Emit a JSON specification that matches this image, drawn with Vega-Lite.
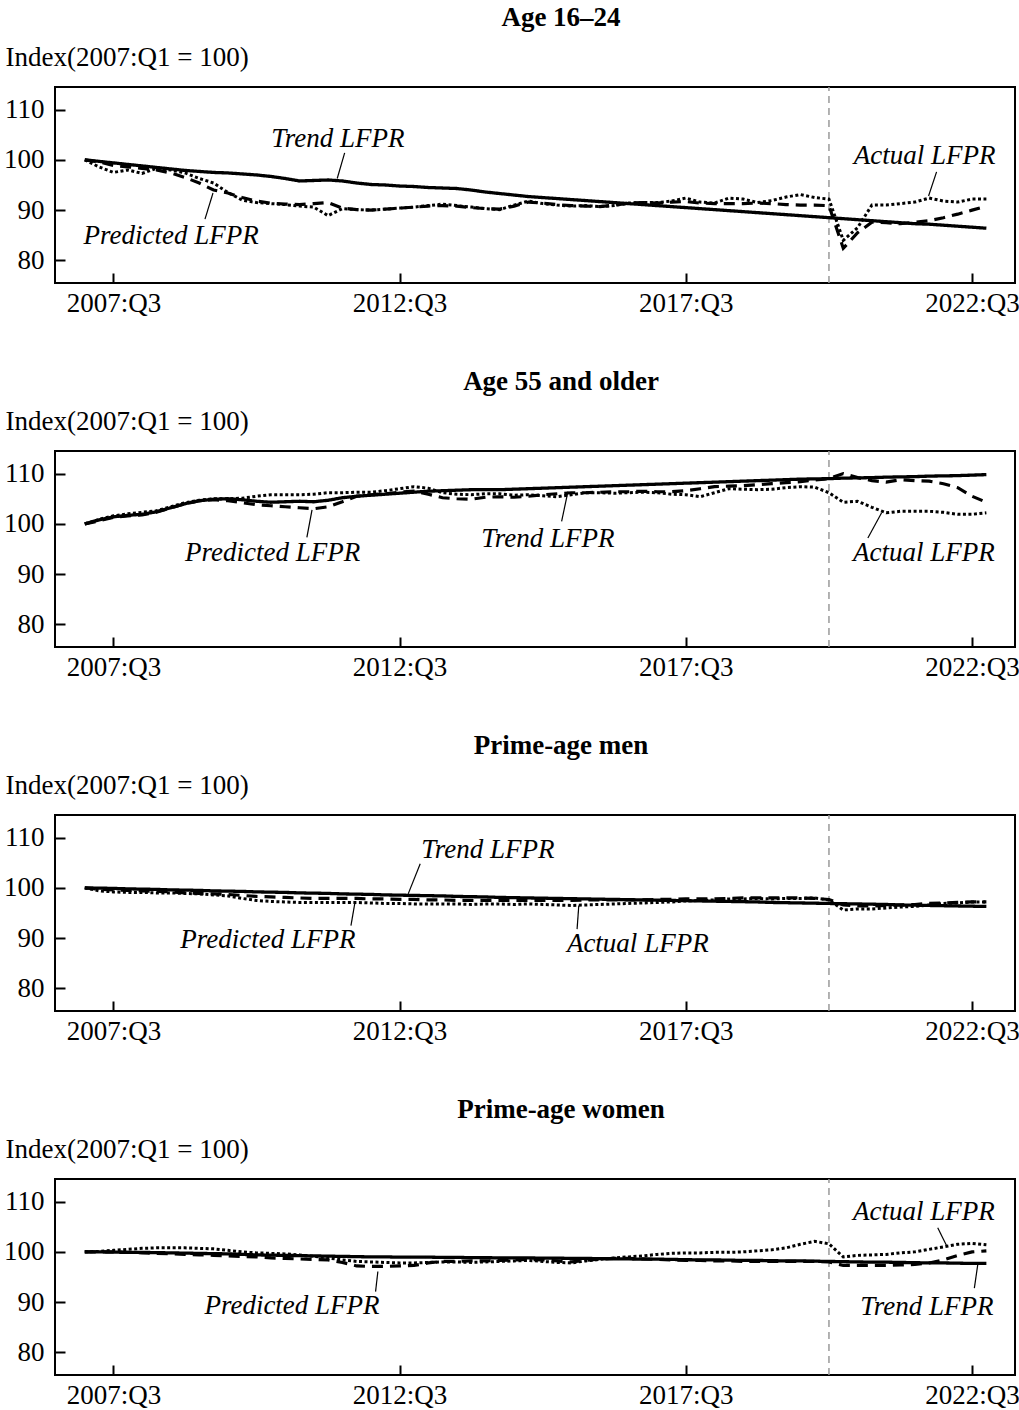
{
  "$schema": "https://vega.github.io/schema/vega-lite/v6.json",
  "background": "white",
  "padding": {"left": 2, "top": 3, "right": 0, "bottom": 0},
  "spacing": 50,
  "config": {
    "font": "Liberation Serif",
    "view": {"stroke": "black", "strokeWidth": 2},
    "axis": {
      "domain": false,
      "grid": false,
      "ticks": true,
      "tickColor": "black",
      "tickWidth": 2,
      "tickSize": -10,
      "labelFont": "Liberation Serif",
      "labelFontSize": 27,
      "labelColor": "black",
      "labelFlush": false,
      "labelOverlap": false,
      "titleFont": "Liberation Serif",
      "titleFontSize": 27,
      "titleFontWeight": "normal",
      "titleColor": "black"
    },
    "title": {
      "font": "Liberation Serif",
      "fontSize": 27,
      "fontWeight": "bold",
      "color": "black",
      "anchor": "middle",
      "offset": 11,
      "dx": 26
    }
  },
  "datasets": {
    "series": [
      {"panel":"a","yr":2007,"trend":100,"pred":100,"act":100},
      {"panel":"a","yr":2007.25,"trend":99.7,"pred":99.6,"act":98.6},
      {"panel":"a","yr":2007.5,"trend":99.4,"pred":98.9,"act":97.5},
      {"panel":"a","yr":2007.75,"trend":99.1,"pred":98.6,"act":98.0},
      {"panel":"a","yr":2008,"trend":98.8,"pred":98.3,"act":97.3},
      {"panel":"a","yr":2008.25,"trend":98.5,"pred":98.0,"act":98.3},
      {"panel":"a","yr":2008.5,"trend":98.2,"pred":97.4,"act":98.0},
      {"panel":"a","yr":2008.75,"trend":97.9,"pred":96.5,"act":97.4},
      {"panel":"a","yr":2009,"trend":97.7,"pred":95.4,"act":96.3},
      {"panel":"a","yr":2009.25,"trend":97.5,"pred":94.0,"act":95.4},
      {"panel":"a","yr":2009.5,"trend":97.4,"pred":93.4,"act":93.5},
      {"panel":"a","yr":2009.75,"trend":97.2,"pred":92.5,"act":92.0},
      {"panel":"a","yr":2010,"trend":97.0,"pred":91.8,"act":91.5},
      {"panel":"a","yr":2010.25,"trend":96.7,"pred":91.4,"act":91.3},
      {"panel":"a","yr":2010.5,"trend":96.3,"pred":91.2,"act":91.1},
      {"panel":"a","yr":2010.75,"trend":95.8,"pred":91.1,"act":90.8},
      {"panel":"a","yr":2011,"trend":95.9,"pred":91.3,"act":90.6},
      {"panel":"a","yr":2011.25,"trend":96.0,"pred":91.5,"act":88.9},
      {"panel":"a","yr":2011.5,"trend":95.8,"pred":90.4,"act":90.3},
      {"panel":"a","yr":2011.75,"trend":95.4,"pred":90.1,"act":90.1},
      {"panel":"a","yr":2012,"trend":95.1,"pred":90.0,"act":90.0},
      {"panel":"a","yr":2012.25,"trend":95.0,"pred":90.2,"act":90.2},
      {"panel":"a","yr":2012.5,"trend":94.8,"pred":90.4,"act":90.4},
      {"panel":"a","yr":2012.75,"trend":94.7,"pred":90.6,"act":90.6},
      {"panel":"a","yr":2013,"trend":94.5,"pred":90.8,"act":90.9},
      {"panel":"a","yr":2013.25,"trend":94.4,"pred":90.9,"act":91.2},
      {"panel":"a","yr":2013.5,"trend":94.3,"pred":90.8,"act":90.9},
      {"panel":"a","yr":2013.75,"trend":94.0,"pred":90.5,"act":90.6},
      {"panel":"a","yr":2014,"trend":93.6,"pred":90.3,"act":90.3},
      {"panel":"a","yr":2014.25,"trend":93.3,"pred":90.2,"act":90.1},
      {"panel":"a","yr":2014.5,"trend":93.0,"pred":90.8,"act":91.0},
      {"panel":"a","yr":2014.75,"trend":92.7,"pred":91.6,"act":91.8},
      {"panel":"a","yr":2015,"trend":92.5,"pred":91.4,"act":91.3},
      {"panel":"a","yr":2015.25,"trend":92.3,"pred":91.1,"act":91.0},
      {"panel":"a","yr":2015.5,"trend":92.1,"pred":90.9,"act":90.8},
      {"panel":"a","yr":2015.75,"trend":91.9,"pred":90.8,"act":90.9},
      {"panel":"a","yr":2016,"trend":91.7,"pred":90.7,"act":90.7},
      {"panel":"a","yr":2016.25,"trend":91.5,"pred":91.0,"act":90.9},
      {"panel":"a","yr":2016.5,"trend":91.3,"pred":91.4,"act":91.4},
      {"panel":"a","yr":2016.75,"trend":91.1,"pred":91.5,"act":91.5},
      {"panel":"a","yr":2017,"trend":90.9,"pred":91.4,"act":91.5},
      {"panel":"a","yr":2017.25,"trend":90.7,"pred":91.6,"act":91.8},
      {"panel":"a","yr":2017.5,"trend":90.5,"pred":91.7,"act":92.4},
      {"panel":"a","yr":2017.75,"trend":90.3,"pred":91.4,"act":91.6},
      {"panel":"a","yr":2018,"trend":90.1,"pred":91.3,"act":91.4},
      {"panel":"a","yr":2018.25,"trend":89.9,"pred":91.3,"act":92.4},
      {"panel":"a","yr":2018.5,"trend":89.7,"pred":91.3,"act":92.2},
      {"panel":"a","yr":2018.75,"trend":89.5,"pred":91.4,"act":91.5},
      {"panel":"a","yr":2019,"trend":89.3,"pred":91.3,"act":91.9},
      {"panel":"a","yr":2019.25,"trend":89.1,"pred":91.1,"act":92.6},
      {"panel":"a","yr":2019.5,"trend":88.9,"pred":91.0,"act":93.1},
      {"panel":"a","yr":2019.75,"trend":88.7,"pred":91.0,"act":92.5},
      {"panel":"a","yr":2020,"trend":88.5,"pred":90.9,"act":92.2},
      {"panel":"a","yr":2020.25,"trend":88.3,"pred":82.4,"act":84.0},
      {"panel":"a","yr":2020.5,"trend":88.1,"pred":85.5,"act":86.5},
      {"panel":"a","yr":2020.75,"trend":87.9,"pred":87.6,"act":91.0},
      {"panel":"a","yr":2021,"trend":87.7,"pred":87.5,"act":91.0},
      {"panel":"a","yr":2021.25,"trend":87.5,"pred":87.3,"act":91.3},
      {"panel":"a","yr":2021.5,"trend":87.3,"pred":87.6,"act":91.6},
      {"panel":"a","yr":2021.75,"trend":87.2,"pred":87.9,"act":92.4},
      {"panel":"a","yr":2022,"trend":87.0,"pred":88.5,"act":91.8},
      {"panel":"a","yr":2022.25,"trend":86.8,"pred":89.2,"act":91.6},
      {"panel":"a","yr":2022.5,"trend":86.6,"pred":90.0,"act":92.2},
      {"panel":"a","yr":2022.75,"trend":86.4,"pred":90.8,"act":92.2},

      {"panel":"b","yr":2007,"trend":100,"pred":100,"act":100},
      {"panel":"b","yr":2007.25,"trend":100.8,"pred":100.6,"act":100.9},
      {"panel":"b","yr":2007.5,"trend":101.4,"pred":101.3,"act":101.6},
      {"panel":"b","yr":2007.75,"trend":101.7,"pred":101.6,"act":102.0},
      {"panel":"b","yr":2008,"trend":101.9,"pred":101.8,"act":102.3},
      {"panel":"b","yr":2008.25,"trend":102.4,"pred":102.3,"act":102.6},
      {"panel":"b","yr":2008.5,"trend":103.2,"pred":103.2,"act":103.4},
      {"panel":"b","yr":2008.75,"trend":104.0,"pred":104.0,"act":104.2},
      {"panel":"b","yr":2009,"trend":104.6,"pred":104.6,"act":104.7},
      {"panel":"b","yr":2009.25,"trend":104.9,"pred":104.8,"act":105.0},
      {"panel":"b","yr":2009.5,"trend":105.0,"pred":104.6,"act":105.0},
      {"panel":"b","yr":2009.75,"trend":104.8,"pred":104.2,"act":105.1},
      {"panel":"b","yr":2010,"trend":104.5,"pred":103.8,"act":105.5},
      {"panel":"b","yr":2010.25,"trend":104.3,"pred":103.6,"act":105.8},
      {"panel":"b","yr":2010.5,"trend":104.4,"pred":103.4,"act":105.8},
      {"panel":"b","yr":2010.75,"trend":104.5,"pred":103.2,"act":105.8},
      {"panel":"b","yr":2011,"trend":104.4,"pred":103.0,"act":105.9},
      {"panel":"b","yr":2011.25,"trend":104.7,"pred":103.4,"act":106.2},
      {"panel":"b","yr":2011.5,"trend":105.2,"pred":104.4,"act":106.2},
      {"panel":"b","yr":2011.75,"trend":105.5,"pred":105.5,"act":106.3},
      {"panel":"b","yr":2012,"trend":105.7,"pred":105.8,"act":106.3},
      {"panel":"b","yr":2012.25,"trend":105.9,"pred":106.0,"act":106.6},
      {"panel":"b","yr":2012.5,"trend":106.1,"pred":106.3,"act":107.0},
      {"panel":"b","yr":2012.75,"trend":106.3,"pred":106.5,"act":107.4},
      {"panel":"b","yr":2013,"trend":106.5,"pred":105.9,"act":107.1},
      {"panel":"b","yr":2013.25,"trend":106.6,"pred":105.2,"act":106.2},
      {"panel":"b","yr":2013.5,"trend":106.7,"pred":105.0,"act":105.9},
      {"panel":"b","yr":2013.75,"trend":106.8,"pred":104.9,"act":105.8},
      {"panel":"b","yr":2014,"trend":106.8,"pred":105.3,"act":106.0},
      {"panel":"b","yr":2014.25,"trend":106.8,"pred":105.4,"act":106.0},
      {"panel":"b","yr":2014.5,"trend":106.9,"pred":105.3,"act":105.7},
      {"panel":"b","yr":2014.75,"trend":107.0,"pred":105.5,"act":105.8},
      {"panel":"b","yr":2015,"trend":107.1,"pred":105.8,"act":105.6},
      {"panel":"b","yr":2015.25,"trend":107.2,"pred":106.0,"act":105.4},
      {"panel":"b","yr":2015.5,"trend":107.3,"pred":106.2,"act":105.8},
      {"panel":"b","yr":2015.75,"trend":107.4,"pred":106.2,"act":106.2},
      {"panel":"b","yr":2016,"trend":107.5,"pred":106.3,"act":106.2},
      {"panel":"b","yr":2016.25,"trend":107.6,"pred":106.4,"act":106.1},
      {"panel":"b","yr":2016.5,"trend":107.7,"pred":106.4,"act":106.2},
      {"panel":"b","yr":2016.75,"trend":107.8,"pred":106.5,"act":106.3},
      {"panel":"b","yr":2017,"trend":107.9,"pred":106.4,"act":106.2},
      {"panel":"b","yr":2017.25,"trend":108.0,"pred":106.4,"act":105.9},
      {"panel":"b","yr":2017.5,"trend":108.1,"pred":106.6,"act":105.8},
      {"panel":"b","yr":2017.75,"trend":108.2,"pred":107.0,"act":105.4},
      {"panel":"b","yr":2018,"trend":108.3,"pred":107.4,"act":106.2},
      {"panel":"b","yr":2018.25,"trend":108.4,"pred":107.5,"act":107.0},
      {"panel":"b","yr":2018.5,"trend":108.5,"pred":107.6,"act":106.9},
      {"panel":"b","yr":2018.75,"trend":108.6,"pred":107.8,"act":106.8},
      {"panel":"b","yr":2019,"trend":108.7,"pred":108.0,"act":106.9},
      {"panel":"b","yr":2019.25,"trend":108.8,"pred":108.2,"act":107.2},
      {"panel":"b","yr":2019.5,"trend":108.9,"pred":108.4,"act":107.4},
      {"panel":"b","yr":2019.75,"trend":108.95,"pred":108.7,"act":107.3},
      {"panel":"b","yr":2020,"trend":109.0,"pred":109.0,"act":106.2},
      {"panel":"b","yr":2020.25,"trend":109.1,"pred":110.0,"act":104.3},
      {"panel":"b","yr":2020.5,"trend":109.15,"pred":109.2,"act":104.5},
      {"panel":"b","yr":2020.75,"trend":109.2,"pred":108.6,"act":103.3},
      {"panel":"b","yr":2021,"trend":109.3,"pred":108.3,"act":102.2},
      {"panel":"b","yr":2021.25,"trend":109.35,"pred":108.8,"act":102.5},
      {"panel":"b","yr":2021.5,"trend":109.4,"pred":108.6,"act":102.5},
      {"panel":"b","yr":2021.75,"trend":109.5,"pred":108.5,"act":102.5},
      {"panel":"b","yr":2022,"trend":109.55,"pred":108.0,"act":102.3},
      {"panel":"b","yr":2022.25,"trend":109.6,"pred":107.2,"act":101.9},
      {"panel":"b","yr":2022.5,"trend":109.7,"pred":105.5,"act":101.9},
      {"panel":"b","yr":2022.75,"trend":109.8,"pred":104.3,"act":102.2},

      {"panel":"c","yr":2007,"trend":100,"pred":100,"act":100},
      {"panel":"c","yr":2007.25,"trend":99.95,"pred":99.7,"act":99.4},
      {"panel":"c","yr":2007.5,"trend":99.9,"pred":99.6,"act":99.2},
      {"panel":"c","yr":2007.75,"trend":99.8,"pred":99.5,"act":99.1},
      {"panel":"c","yr":2008,"trend":99.75,"pred":99.4,"act":99.1},
      {"panel":"c","yr":2008.25,"trend":99.7,"pred":99.3,"act":99.0},
      {"panel":"c","yr":2008.5,"trend":99.6,"pred":99.2,"act":99.0},
      {"panel":"c","yr":2008.75,"trend":99.55,"pred":99.0,"act":98.9},
      {"panel":"c","yr":2009,"trend":99.5,"pred":98.9,"act":98.8},
      {"panel":"c","yr":2009.25,"trend":99.4,"pred":98.8,"act":98.6},
      {"panel":"c","yr":2009.5,"trend":99.35,"pred":98.7,"act":98.4},
      {"panel":"c","yr":2009.75,"trend":99.3,"pred":98.5,"act":97.9},
      {"panel":"c","yr":2010,"trend":99.2,"pred":98.3,"act":97.5},
      {"panel":"c","yr":2010.25,"trend":99.15,"pred":98.2,"act":97.3},
      {"panel":"c","yr":2010.5,"trend":99.1,"pred":98.1,"act":97.2},
      {"panel":"c","yr":2010.75,"trend":99.0,"pred":98.0,"act":97.1},
      {"panel":"c","yr":2011,"trend":98.95,"pred":97.9,"act":97.1},
      {"panel":"c","yr":2011.25,"trend":98.9,"pred":97.9,"act":97.1},
      {"panel":"c","yr":2011.5,"trend":98.8,"pred":97.9,"act":97.1},
      {"panel":"c","yr":2011.75,"trend":98.75,"pred":97.9,"act":97.1},
      {"panel":"c","yr":2012,"trend":98.7,"pred":97.8,"act":97.0},
      {"panel":"c","yr":2012.25,"trend":98.6,"pred":97.8,"act":96.9},
      {"panel":"c","yr":2012.5,"trend":98.55,"pred":97.7,"act":96.9},
      {"panel":"c","yr":2012.75,"trend":98.5,"pred":97.7,"act":96.8},
      {"panel":"c","yr":2013,"trend":98.45,"pred":97.6,"act":96.8},
      {"panel":"c","yr":2013.25,"trend":98.4,"pred":97.6,"act":96.8},
      {"panel":"c","yr":2013.5,"trend":98.3,"pred":97.5,"act":96.8},
      {"panel":"c","yr":2013.75,"trend":98.25,"pred":97.5,"act":96.7},
      {"panel":"c","yr":2014,"trend":98.2,"pred":97.5,"act":96.8},
      {"panel":"c","yr":2014.25,"trend":98.1,"pred":97.5,"act":96.8},
      {"panel":"c","yr":2014.5,"trend":98.05,"pred":97.5,"act":96.7},
      {"panel":"c","yr":2014.75,"trend":98.0,"pred":97.5,"act":96.8},
      {"panel":"c","yr":2015,"trend":97.95,"pred":97.5,"act":96.7},
      {"panel":"c","yr":2015.25,"trend":97.9,"pred":97.5,"act":96.6},
      {"panel":"c","yr":2015.5,"trend":97.85,"pred":97.5,"act":96.5},
      {"panel":"c","yr":2015.75,"trend":97.8,"pred":97.6,"act":96.6},
      {"panel":"c","yr":2016,"trend":97.75,"pred":97.6,"act":96.7},
      {"panel":"c","yr":2016.25,"trend":97.7,"pred":97.6,"act":96.8},
      {"panel":"c","yr":2016.5,"trend":97.65,"pred":97.6,"act":96.9},
      {"panel":"c","yr":2016.75,"trend":97.6,"pred":97.6,"act":97.0},
      {"panel":"c","yr":2017,"trend":97.55,"pred":97.7,"act":97.1},
      {"panel":"c","yr":2017.25,"trend":97.5,"pred":97.7,"act":97.2},
      {"panel":"c","yr":2017.5,"trend":97.45,"pred":97.8,"act":97.4},
      {"panel":"c","yr":2017.75,"trend":97.4,"pred":97.8,"act":97.5},
      {"panel":"c","yr":2018,"trend":97.35,"pred":97.8,"act":97.6},
      {"panel":"c","yr":2018.25,"trend":97.3,"pred":97.9,"act":97.8},
      {"panel":"c","yr":2018.5,"trend":97.25,"pred":98.0,"act":97.8},
      {"panel":"c","yr":2018.75,"trend":97.2,"pred":98.0,"act":97.9},
      {"panel":"c","yr":2019,"trend":97.1,"pred":98.0,"act":97.8},
      {"panel":"c","yr":2019.25,"trend":97.05,"pred":98.0,"act":97.9},
      {"panel":"c","yr":2019.5,"trend":97.0,"pred":98.0,"act":97.9},
      {"panel":"c","yr":2019.75,"trend":96.95,"pred":97.9,"act":98.0},
      {"panel":"c","yr":2020,"trend":96.9,"pred":97.7,"act":97.6},
      {"panel":"c","yr":2020.25,"trend":96.85,"pred":96.6,"act":95.6},
      {"panel":"c","yr":2020.5,"trend":96.8,"pred":96.4,"act":95.8},
      {"panel":"c","yr":2020.75,"trend":96.75,"pred":96.4,"act":95.8},
      {"panel":"c","yr":2021,"trend":96.7,"pred":96.5,"act":96.0},
      {"panel":"c","yr":2021.25,"trend":96.6,"pred":96.6,"act":96.2},
      {"panel":"c","yr":2021.5,"trend":96.55,"pred":96.7,"act":96.3},
      {"panel":"c","yr":2021.75,"trend":96.5,"pred":96.9,"act":96.6},
      {"panel":"c","yr":2022,"trend":96.45,"pred":97.0,"act":96.9},
      {"panel":"c","yr":2022.25,"trend":96.4,"pred":97.1,"act":97.0},
      {"panel":"c","yr":2022.5,"trend":96.35,"pred":97.2,"act":97.2},
      {"panel":"c","yr":2022.75,"trend":96.3,"pred":97.2,"act":97.2},

      {"panel":"d","yr":2007,"trend":100,"pred":100,"act":100},
      {"panel":"d","yr":2007.25,"trend":100.0,"pred":100.0,"act":100.1},
      {"panel":"d","yr":2007.5,"trend":99.95,"pred":100.0,"act":100.3},
      {"panel":"d","yr":2007.75,"trend":99.9,"pred":99.9,"act":100.5},
      {"panel":"d","yr":2008,"trend":99.9,"pred":99.8,"act":100.7},
      {"panel":"d","yr":2008.25,"trend":99.85,"pred":99.7,"act":100.8},
      {"panel":"d","yr":2008.5,"trend":99.8,"pred":99.6,"act":100.8},
      {"panel":"d","yr":2008.75,"trend":99.75,"pred":99.5,"act":100.8},
      {"panel":"d","yr":2009,"trend":99.7,"pred":99.4,"act":100.7},
      {"panel":"d","yr":2009.25,"trend":99.65,"pred":99.3,"act":100.6},
      {"panel":"d","yr":2009.5,"trend":99.6,"pred":99.2,"act":100.3},
      {"panel":"d","yr":2009.75,"trend":99.5,"pred":99.1,"act":100.0},
      {"panel":"d","yr":2010,"trend":99.4,"pred":99.0,"act":99.8},
      {"panel":"d","yr":2010.25,"trend":99.35,"pred":98.8,"act":99.7},
      {"panel":"d","yr":2010.5,"trend":99.3,"pred":98.7,"act":99.6},
      {"panel":"d","yr":2010.75,"trend":99.25,"pred":98.6,"act":99.4},
      {"panel":"d","yr":2011,"trend":99.2,"pred":98.5,"act":99.1},
      {"panel":"d","yr":2011.25,"trend":99.15,"pred":98.4,"act":98.8},
      {"panel":"d","yr":2011.5,"trend":99.1,"pred":97.9,"act":98.4},
      {"panel":"d","yr":2011.75,"trend":99.05,"pred":97.2,"act":98.1},
      {"panel":"d","yr":2012,"trend":99.0,"pred":97.1,"act":98.0},
      {"panel":"d","yr":2012.25,"trend":99.0,"pred":97.1,"act":97.9},
      {"panel":"d","yr":2012.5,"trend":98.95,"pred":97.2,"act":97.8},
      {"panel":"d","yr":2012.75,"trend":98.95,"pred":97.3,"act":97.8},
      {"panel":"d","yr":2013,"trend":98.95,"pred":97.8,"act":97.9},
      {"panel":"d","yr":2013.25,"trend":98.9,"pred":98.1,"act":98.0},
      {"panel":"d","yr":2013.5,"trend":98.9,"pred":98.1,"act":98.0},
      {"panel":"d","yr":2013.75,"trend":98.85,"pred":98.2,"act":97.9},
      {"panel":"d","yr":2014,"trend":98.85,"pred":98.2,"act":98.0},
      {"panel":"d","yr":2014.25,"trend":98.8,"pred":98.3,"act":98.1},
      {"panel":"d","yr":2014.5,"trend":98.8,"pred":98.4,"act":98.2},
      {"panel":"d","yr":2014.75,"trend":98.8,"pred":98.5,"act":98.3},
      {"panel":"d","yr":2015,"trend":98.75,"pred":98.4,"act":98.1},
      {"panel":"d","yr":2015.25,"trend":98.75,"pred":98.2,"act":97.9},
      {"panel":"d","yr":2015.5,"trend":98.7,"pred":98.0,"act":97.8},
      {"panel":"d","yr":2015.75,"trend":98.7,"pred":98.3,"act":98.2},
      {"panel":"d","yr":2016,"trend":98.65,"pred":98.6,"act":98.5},
      {"panel":"d","yr":2016.25,"trend":98.6,"pred":98.7,"act":98.8},
      {"panel":"d","yr":2016.5,"trend":98.6,"pred":98.7,"act":99.0},
      {"panel":"d","yr":2016.75,"trend":98.55,"pred":98.6,"act":99.2},
      {"panel":"d","yr":2017,"trend":98.55,"pred":98.5,"act":99.5},
      {"panel":"d","yr":2017.25,"trend":98.5,"pred":98.4,"act":99.7},
      {"panel":"d","yr":2017.5,"trend":98.45,"pred":98.3,"act":99.8},
      {"panel":"d","yr":2017.75,"trend":98.4,"pred":98.3,"act":99.8},
      {"panel":"d","yr":2018,"trend":98.4,"pred":98.2,"act":99.9},
      {"panel":"d","yr":2018.25,"trend":98.35,"pred":98.2,"act":99.9},
      {"panel":"d","yr":2018.5,"trend":98.3,"pred":98.1,"act":100.0},
      {"panel":"d","yr":2018.75,"trend":98.3,"pred":98.1,"act":100.2},
      {"panel":"d","yr":2019,"trend":98.25,"pred":98.1,"act":100.4},
      {"panel":"d","yr":2019.25,"trend":98.2,"pred":98.1,"act":100.8},
      {"panel":"d","yr":2019.5,"trend":98.2,"pred":98.1,"act":101.5},
      {"panel":"d","yr":2019.75,"trend":98.15,"pred":98.1,"act":102.1},
      {"panel":"d","yr":2020,"trend":98.1,"pred":98.0,"act":101.6},
      {"panel":"d","yr":2020.25,"trend":98.05,"pred":97.3,"act":99.0},
      {"panel":"d","yr":2020.5,"trend":98.0,"pred":97.3,"act":99.3},
      {"panel":"d","yr":2020.75,"trend":97.95,"pred":97.3,"act":99.4},
      {"panel":"d","yr":2021,"trend":97.95,"pred":97.3,"act":99.5},
      {"panel":"d","yr":2021.25,"trend":97.9,"pred":97.4,"act":99.8},
      {"panel":"d","yr":2021.5,"trend":97.85,"pred":97.5,"act":100.0},
      {"panel":"d","yr":2021.75,"trend":97.8,"pred":97.8,"act":100.5},
      {"panel":"d","yr":2022,"trend":97.8,"pred":98.4,"act":101.0},
      {"panel":"d","yr":2022.25,"trend":97.75,"pred":99.3,"act":101.5},
      {"panel":"d","yr":2022.5,"trend":97.7,"pred":100.0,"act":101.7},
      {"panel":"d","yr":2022.75,"trend":97.7,"pred":100.2,"act":101.4}
    ],
    "labels": [
      {"panel":"a","label":"Trend LFPR","yr":2011.42,"value":104.2},
      {"panel":"a","label":"Predicted LFPR","yr":2008.51,"value":84.8},
      {"panel":"a","label":"Actual LFPR","yr":2021.67,"value":100.8},
      {"panel":"b","label":"Predicted LFPR","yr":2010.28,"value":94.3},
      {"panel":"b","label":"Trend LFPR","yr":2015.09,"value":97.0},
      {"panel":"b","label":"Actual LFPR","yr":2021.66,"value":94.3},
      {"panel":"c","label":"Trend LFPR","yr":2014.04,"value":107.6},
      {"panel":"c","label":"Predicted LFPR","yr":2010.2,"value":89.7},
      {"panel":"c","label":"Actual LFPR","yr":2016.66,"value":88.9},
      {"panel":"d","label":"Actual LFPR","yr":2021.66,"value":107.9},
      {"panel":"d","label":"Predicted LFPR","yr":2010.62,"value":89.3},
      {"panel":"d","label":"Trend LFPR","yr":2021.71,"value":89.1}
    ],
    "leaders": [
      {"panel":"a","yr":2011.54,"value":101.4,"yr2":2011.41,"value2":96.3},
      {"panel":"a","yr":2009.24,"value":93.4,"yr2":2009.1,"value2":88.2},
      {"panel":"a","yr":2021.88,"value":97.6,"yr2":2021.74,"value2":92.8},
      {"panel":"b","yr":2010.97,"value":102.8,"yr2":2010.88,"value2":97.3},
      {"panel":"b","yr":2015.44,"value":106.4,"yr2":2015.33,"value2":100.5},
      {"panel":"b","yr":2020.92,"value":102.2,"yr2":2020.68,"value2":97.2},
      {"panel":"c","yr":2012.86,"value":104.8,"yr2":2012.65,"value2":98.8},
      {"panel":"c","yr":2011.72,"value":97.1,"yr2":2011.65,"value2":92.5},
      {"panel":"c","yr":2015.63,"value":96.5,"yr2":2015.6,"value2":91.8},
      {"panel":"d","yr":2021.9,"value":104.8,"yr2":2022.06,"value2":101.1},
      {"panel":"d","yr":2012.12,"value":96.1,"yr2":2012.08,"value2":92.1},
      {"panel":"d","yr":2022.6,"value":97.5,"yr2":2022.54,"value2":92.8}
    ],
    "breaks": [{"yr": 2020, "value": 75.5, "value2": 114.5}]
  },
  "vconcat": [
    {
      "title": "Age 16–24",
      "width": 960, "height": 196,
      "encoding": {
        "x": {"field": "yr", "type": "quantitative", "scale": {"domain": [2006.48, 2023.25], "nice": false, "zero": false},
              "axis": {"values": [2007.5, 2012.5, 2017.5, 2022.5], "labelExpr": "floor(datum.value) + ':Q3'", "title": null, "labelPadding": 17}},
        "y": {"field": "value", "type": "quantitative", "scale": {"domain": [75.5, 114.5], "nice": false, "zero": false},
              "axis": {"values": [80, 90, 100, 110], "labelPadding": 21, "title": "Index(2007:Q1 = 100)", "titleAngle": 0, "titleAlign": "left", "titleBaseline": "alphabetic", "titleX": -50, "titleY": -22}}
      },
      "layer": [
        {"data": {"name": "breaks"}, "mark": {"type": "rule", "color": "#9a9a9a", "strokeWidth": 1.5, "strokeDash": [7, 5]},
         "encoding": {"y2": {"field": "value2"}}},
        {"data": {"name": "series"},
         "transform": [{"filter": "datum.panel === 'a'"}, {"fold": ["trend", "pred", "act"], "as": ["series", "value"]}],
         "mark": {"type": "line", "color": "black"},
         "encoding": {
           "detail": {"field": "series"},
           "strokeDash": {"field": "series", "type": "nominal", "scale": {"domain": ["trend", "pred", "act"], "range": [[1, 0], [11, 7], [3, 2.5]]}, "legend": null},
           "strokeWidth": {"field": "series", "type": "nominal", "scale": {"domain": ["trend", "pred", "act"], "range": [3.3, 3, 3]}, "legend": null}
         }},
        {"data": {"name": "leaders"}, "transform": [{"filter": "datum.panel === 'a'"}],
         "mark": {"type": "rule", "color": "black", "strokeWidth": 1.2},
         "encoding": {"x2": {"field": "yr2"}, "y2": {"field": "value2"}}},
        {"data": {"name": "labels"}, "transform": [{"filter": "datum.panel === 'a'"}],
         "mark": {"type": "text", "align": "center", "baseline": "middle", "font": "Liberation Serif", "fontSize": 27, "fontStyle": "italic", "color": "black"},
         "encoding": {"text": {"field": "label"}}}
      ]
    },
    {
      "title": "Age 55 and older",
      "width": 960, "height": 196,
      "encoding": {
        "x": {"field": "yr", "type": "quantitative", "scale": {"domain": [2006.48, 2023.25], "nice": false, "zero": false},
              "axis": {"values": [2007.5, 2012.5, 2017.5, 2022.5], "labelExpr": "floor(datum.value) + ':Q3'", "title": null, "labelPadding": 17}},
        "y": {"field": "value", "type": "quantitative", "scale": {"domain": [75.5, 114.5], "nice": false, "zero": false},
              "axis": {"values": [80, 90, 100, 110], "labelPadding": 21, "title": "Index(2007:Q1 = 100)", "titleAngle": 0, "titleAlign": "left", "titleBaseline": "alphabetic", "titleX": -50, "titleY": -22}}
      },
      "layer": [
        {"data": {"name": "breaks"}, "mark": {"type": "rule", "color": "#9a9a9a", "strokeWidth": 1.5, "strokeDash": [7, 5]},
         "encoding": {"y2": {"field": "value2"}}},
        {"data": {"name": "series"},
         "transform": [{"filter": "datum.panel === 'b'"}, {"fold": ["trend", "pred", "act"], "as": ["series", "value"]}],
         "mark": {"type": "line", "color": "black"},
         "encoding": {
           "detail": {"field": "series"},
           "strokeDash": {"field": "series", "type": "nominal", "scale": {"domain": ["trend", "pred", "act"], "range": [[1, 0], [11, 7], [3, 2.5]]}, "legend": null},
           "strokeWidth": {"field": "series", "type": "nominal", "scale": {"domain": ["trend", "pred", "act"], "range": [3.3, 3, 3]}, "legend": null}
         }},
        {"data": {"name": "leaders"}, "transform": [{"filter": "datum.panel === 'b'"}],
         "mark": {"type": "rule", "color": "black", "strokeWidth": 1.2},
         "encoding": {"x2": {"field": "yr2"}, "y2": {"field": "value2"}}},
        {"data": {"name": "labels"}, "transform": [{"filter": "datum.panel === 'b'"}],
         "mark": {"type": "text", "align": "center", "baseline": "middle", "font": "Liberation Serif", "fontSize": 27, "fontStyle": "italic", "color": "black"},
         "encoding": {"text": {"field": "label"}}}
      ]
    },
    {
      "title": "Prime-age men",
      "width": 960, "height": 196,
      "encoding": {
        "x": {"field": "yr", "type": "quantitative", "scale": {"domain": [2006.48, 2023.25], "nice": false, "zero": false},
              "axis": {"values": [2007.5, 2012.5, 2017.5, 2022.5], "labelExpr": "floor(datum.value) + ':Q3'", "title": null, "labelPadding": 17}},
        "y": {"field": "value", "type": "quantitative", "scale": {"domain": [75.5, 114.5], "nice": false, "zero": false},
              "axis": {"values": [80, 90, 100, 110], "labelPadding": 21, "title": "Index(2007:Q1 = 100)", "titleAngle": 0, "titleAlign": "left", "titleBaseline": "alphabetic", "titleX": -50, "titleY": -22}}
      },
      "layer": [
        {"data": {"name": "breaks"}, "mark": {"type": "rule", "color": "#9a9a9a", "strokeWidth": 1.5, "strokeDash": [7, 5]},
         "encoding": {"y2": {"field": "value2"}}},
        {"data": {"name": "series"},
         "transform": [{"filter": "datum.panel === 'c'"}, {"fold": ["trend", "pred", "act"], "as": ["series", "value"]}],
         "mark": {"type": "line", "color": "black"},
         "encoding": {
           "detail": {"field": "series"},
           "strokeDash": {"field": "series", "type": "nominal", "scale": {"domain": ["trend", "pred", "act"], "range": [[1, 0], [11, 7], [3, 2.5]]}, "legend": null},
           "strokeWidth": {"field": "series", "type": "nominal", "scale": {"domain": ["trend", "pred", "act"], "range": [3.3, 3, 3]}, "legend": null}
         }},
        {"data": {"name": "leaders"}, "transform": [{"filter": "datum.panel === 'c'"}],
         "mark": {"type": "rule", "color": "black", "strokeWidth": 1.2},
         "encoding": {"x2": {"field": "yr2"}, "y2": {"field": "value2"}}},
        {"data": {"name": "labels"}, "transform": [{"filter": "datum.panel === 'c'"}],
         "mark": {"type": "text", "align": "center", "baseline": "middle", "font": "Liberation Serif", "fontSize": 27, "fontStyle": "italic", "color": "black"},
         "encoding": {"text": {"field": "label"}}}
      ]
    },
    {
      "title": "Prime-age women",
      "width": 960, "height": 196,
      "encoding": {
        "x": {"field": "yr", "type": "quantitative", "scale": {"domain": [2006.48, 2023.25], "nice": false, "zero": false},
              "axis": {"values": [2007.5, 2012.5, 2017.5, 2022.5], "labelExpr": "floor(datum.value) + ':Q3'", "title": null, "labelPadding": 17}},
        "y": {"field": "value", "type": "quantitative", "scale": {"domain": [75.5, 114.5], "nice": false, "zero": false},
              "axis": {"values": [80, 90, 100, 110], "labelPadding": 21, "title": "Index(2007:Q1 = 100)", "titleAngle": 0, "titleAlign": "left", "titleBaseline": "alphabetic", "titleX": -50, "titleY": -22}}
      },
      "layer": [
        {"data": {"name": "breaks"}, "mark": {"type": "rule", "color": "#9a9a9a", "strokeWidth": 1.5, "strokeDash": [7, 5]},
         "encoding": {"y2": {"field": "value2"}}},
        {"data": {"name": "series"},
         "transform": [{"filter": "datum.panel === 'd'"}, {"fold": ["trend", "pred", "act"], "as": ["series", "value"]}],
         "mark": {"type": "line", "color": "black"},
         "encoding": {
           "detail": {"field": "series"},
           "strokeDash": {"field": "series", "type": "nominal", "scale": {"domain": ["trend", "pred", "act"], "range": [[1, 0], [11, 7], [3, 2.5]]}, "legend": null},
           "strokeWidth": {"field": "series", "type": "nominal", "scale": {"domain": ["trend", "pred", "act"], "range": [3.3, 3, 3]}, "legend": null}
         }},
        {"data": {"name": "leaders"}, "transform": [{"filter": "datum.panel === 'd'"}],
         "mark": {"type": "rule", "color": "black", "strokeWidth": 1.2},
         "encoding": {"x2": {"field": "yr2"}, "y2": {"field": "value2"}}},
        {"data": {"name": "labels"}, "transform": [{"filter": "datum.panel === 'd'"}],
         "mark": {"type": "text", "align": "center", "baseline": "middle", "font": "Liberation Serif", "fontSize": 27, "fontStyle": "italic", "color": "black"},
         "encoding": {"text": {"field": "label"}}}
      ]
    }
  ]
}
